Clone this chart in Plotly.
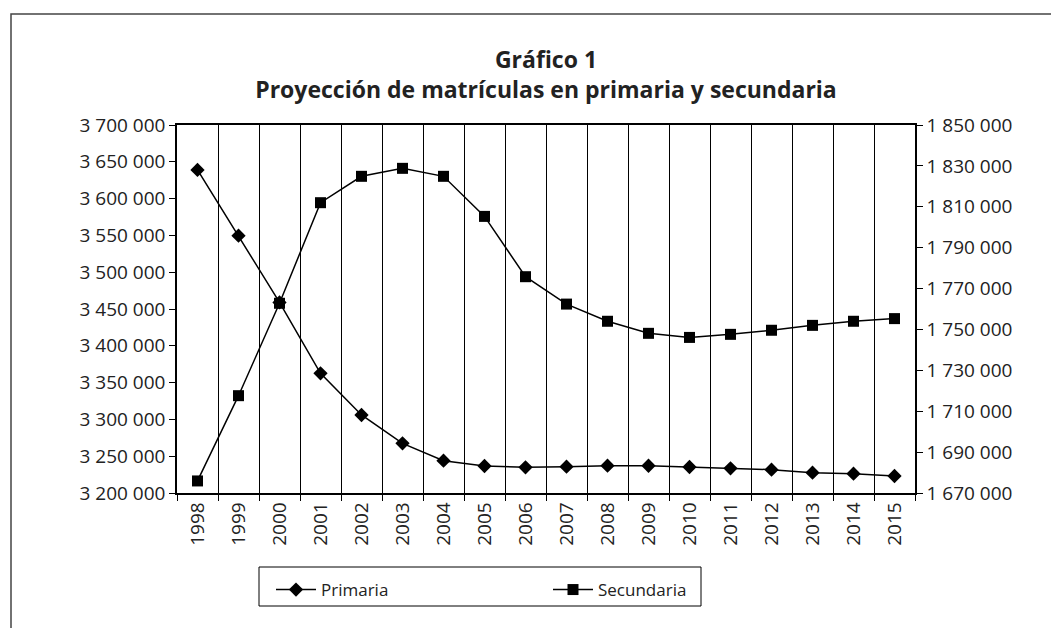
import plotly.graph_objects as go

years = list(range(1998, 2016))
primaria = [3639000, 3549600, 3459000, 3362600, 3306000, 3267500, 3243900, 3236700, 3234900,
            3235800, 3237100, 3237000, 3235300, 3233500, 3231700, 3227600, 3226200, 3223100]
secundaria = [1675900, 1717600, 1762800, 1812000, 1824900, 1828800, 1824900, 1805300, 1775800,
              1762400, 1754000, 1748100, 1746100, 1747600, 1749600, 1752000, 1754000, 1755300]

W, H = 1059, 628
OFF = 8  # page body offset
L, R, T, B = 177 - OFF, 915 - OFF, 125 - OFF, 493 - OFF
FONT = "Open Sans"
TXT = "#222222"

fig = go.Figure()
fig.add_trace(go.Scatter(x=years, y=primaria, name="Primaria", mode="lines+markers",
                         line=dict(color="black", width=1.5),
                         marker=dict(symbol="diamond", size=11, color="black"),
                         yaxis="y"))
fig.add_trace(go.Scatter(x=years, y=secundaria, name="Secundaria", mode="lines+markers",
                         line=dict(color="black", width=1.5),
                         marker=dict(symbol="square", size=11, color="black"),
                         yaxis="y2"))

def px_x(p):
    return (p - OFF - L) / (R - L)

def px_y(p):
    return (B - (p - OFF)) / (B - T)

boundaries = [y - 0.5 for y in years] + [years[-1] + 0.5]

fig.update_layout(
    width=W, height=H,
    margin=dict(l=L, r=W - R, t=T, b=H - B, autoexpand=False),
    paper_bgcolor="white", plot_bgcolor="white",
    separators=", ",
    font=dict(family=FONT, size=19, color=TXT),
    title=dict(text="<b>Gráfico 1</b><br><b>Proyección de matrículas en primaria y secundaria</b>",
               x=0.5, xanchor="center", xref="paper", y=1 - 60 / H, yanchor="middle",
               font=dict(family=FONT, size=23, color=TXT)),
    xaxis=dict(range=[years[0] - 0.5, years[-1] + 0.5], tickmode="array",
               tickvals=years, ticktext=[str(y) for y in years], tickangle=-90,
               ticks="", showgrid=False, showline=True, linecolor="black", linewidth=1.5,
               mirror=True, zeroline=False,
               minor=dict(tickmode="array", tickvals=boundaries, ticks="outside", ticklen=6,
                          tickcolor="black", showgrid=True, gridcolor="black", gridwidth=1),
               tickfont=dict(size=19, color=TXT)),
    yaxis=dict(range=[3200000, 3700000], dtick=50000, tick0=3200000, tickformat=",d",
               ticks="outside", ticklen=6, tickcolor="black", showgrid=False, showline=True,
               linecolor="black", linewidth=1.5, zeroline=False,
               tickfont=dict(size=19, color=TXT)),
    yaxis2=dict(range=[1670000, 1850000], dtick=20000, tick0=1670000, tickformat=",d",
                ticks="outside", ticklen=6, tickcolor="black", showgrid=False, showline=True,
                linecolor="black", linewidth=1.5, zeroline=False, overlaying="y", side="right",
                tickfont=dict(size=19, color=TXT)),
    showlegend=True,
    legend=dict(orientation="h", x=px_x(271), y=px_y(572), xanchor="left", yanchor="top",
                borderwidth=0, bgcolor="rgba(0,0,0,0)",
                entrywidth=222, entrywidthmode="pixels",
                font=dict(size=17, color=TXT), itemwidth=40),
    shapes=[dict(type="rect", xref="paper", yref="paper",
                 x0=px_x(11), x1=px_x(1075), y0=px_y(645), y1=px_y(14),
                 line=dict(color="#444444", width=1.5), fillcolor="rgba(0,0,0,0)", layer="below"),
            dict(type="rect", xref="paper", yref="paper",
                 x0=px_x(259), x1=px_x(701), y0=px_y(606), y1=px_y(567),
                 line=dict(color="black", width=1), fillcolor="rgba(0,0,0,0)", layer="below")],
)

fig.write_html("out.html")
